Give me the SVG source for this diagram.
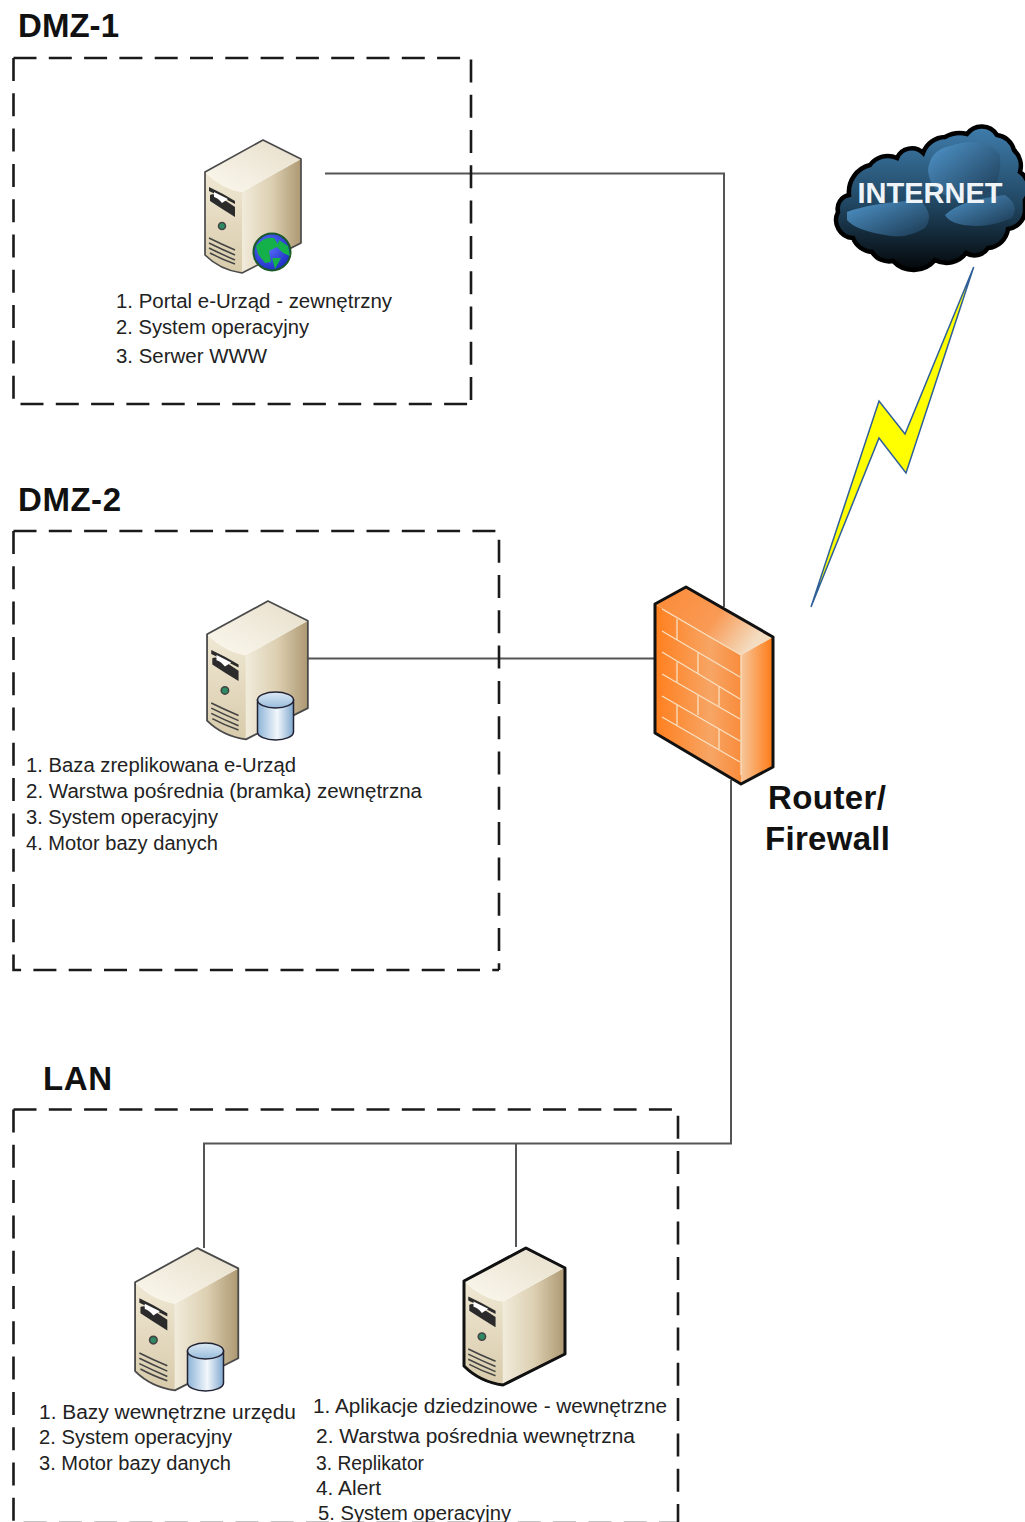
<svg xmlns="http://www.w3.org/2000/svg" width="1025" height="1522" viewBox="0 0 1025 1522">
<style>
.zone{fill:none;stroke:#1a1a1a;stroke-width:2.6;stroke-dasharray:23 12.300}
.wire{fill:none;stroke:#555;stroke-width:2}
.h{font:bold 33px "Liberation Sans",Arial,sans-serif;fill:#111}
.fw{font:bold 33px "Liberation Sans",Arial,sans-serif;fill:#111}
.t{font:20px "Liberation Sans",Arial,sans-serif;fill:#222}
.inet{font:bold 29px "Liberation Sans",Arial,sans-serif;fill:#eef4f8;text-anchor:middle}
.brick{fill:none;stroke:#f8e0c0;stroke-width:1.300}
</style>
<defs>
<linearGradient id="sTop" x1="0" y1="1" x2="1" y2="0"><stop offset="0" stop-color="#fbf8ee"/><stop offset="1" stop-color="#e6decA"/></linearGradient>
<linearGradient id="sFront" x1="0" y1="0" x2="0" y2="1"><stop offset="0" stop-color="#f0e8d4"/><stop offset="1" stop-color="#d8cbab"/></linearGradient>
<linearGradient id="sSide" x1="0" y1="0" x2="1" y2="0"><stop offset="0" stop-color="#f1ebdb"/><stop offset="0.5" stop-color="#ddd0b2"/><stop offset="1" stop-color="#ad9872"/></linearGradient>
<linearGradient id="cyl" x1="0" y1="0" x2="1" y2="0"><stop offset="0" stop-color="#8db4d8"/><stop offset="0.55" stop-color="#f2f7fb"/><stop offset="1" stop-color="#7fa8cf"/></linearGradient>
<linearGradient id="cylTop" x1="0" y1="0" x2="0" y2="1"><stop offset="0" stop-color="#dce9f4"/><stop offset="1" stop-color="#98bcdc"/></linearGradient>
<radialGradient id="globe" cx="0.4" cy="0.35" r="0.7"><stop offset="0" stop-color="#5a70ff"/><stop offset="1" stop-color="#1a2cc0"/></radialGradient>
<linearGradient id="cloud" x1="0" y1="0" x2="0" y2="1"><stop offset="0" stop-color="#3f7dac"/><stop offset="0.55" stop-color="#204560"/><stop offset="1" stop-color="#040709"/></linearGradient>
<linearGradient id="blob" x1="0" y1="0" x2="1" y2="1"><stop offset="0" stop-color="#5096cc"/><stop offset="1" stop-color="#1b3850"/></linearGradient>
<linearGradient id="fwFront" x1="0" y1="0" x2="1" y2="0"><stop offset="0" stop-color="#ff7f1e"/><stop offset="0.65" stop-color="#f7a565"/><stop offset="1" stop-color="#f98c3c"/></linearGradient>
<linearGradient id="fwSide" x1="0" y1="0" x2="1" y2="0"><stop offset="0" stop-color="#f6c79c"/><stop offset="1" stop-color="#ff7a14"/></linearGradient>
<linearGradient id="fwTop" x1="0" y1="0" x2="1" y2="0.4"><stop offset="0" stop-color="#fb8a35"/><stop offset="0.6" stop-color="#f99a55"/><stop offset="1" stop-color="#f3dcc0"/></linearGradient>
<g id="server">
<path d="M1 33 Q18 50 38 53 L38 134 Q16 131 1 116Z" fill="url(#sFront)"/>
<path d="M38 53 L97 20 L97 104 L38 134Z" fill="url(#sSide)"/>
<path d="M1 33 L59 1 L97 20 L38 53 Q18 50 1 33Z" fill="url(#sTop)"/>
<path d="M5 48 Q18 54 31 62 L31 65 Q18 58 5 52Z" fill="#2b2b2b"/>
<path d="M6 56 Q10 54 16 58 L31 68 L31 78 Q18 70 6 62Z" fill="#2b2b2b"/>
<path d="M10 53 L24 60 L18 64 Q14 59 10 58Z" fill="#fff"/>
<circle cx="18" cy="87" r="3.500" fill="#2d8a63" stroke="#444" stroke-width="1.500"/>
<path d="M5 99 Q17 105 31 111 M5 104 Q17 110 31 116 M5 109 Q17 115 31 121 M6 114 Q17 120 31 125" fill="none" stroke="#444" stroke-width="1.500"/>
<path d="M1 33 L59 1 L97 20 L97 104 L38 134 Q16 131 1 116Z" fill="none" stroke="#4a4a4a" stroke-width="1.700" stroke-linejoin="round"/>
</g>
<g id="db">
<path d="M0 8 V40 A18 8 0 0 0 36 40 V8Z" fill="url(#cyl)" stroke="#223" stroke-width="1.500"/>
<ellipse cx="18" cy="8" rx="18" ry="8" fill="url(#cylTop)" stroke="#223" stroke-width="1.500"/>
</g>
</defs>

<g id="connectors">
<path class="wire" d="M325 173.500H724V607"/>
<path class="wire" d="M308 658.500H655"/>
<path class="wire" d="M731 780V1143.500H204V1248"/>
<path class="wire" d="M516 1143.500V1247"/>
</g>

<g id="zone-dmz1">
<path class="zone" d="M13.500 58H471V404"/>
<path class="zone" d="M13.500 58V404H471"/>
<text class="h" x="18" y="37" textLength="101">DMZ-1</text>
</g>
<g id="zone-dmz2">
<path class="zone" d="M13.500 531H499V970"/>
<path class="zone" d="M13.500 531V970H499"/>
<text class="h" x="18" y="511" textLength="103">DMZ-2</text>
</g>
<g id="zone-lan">
<path class="zone" d="M13.500 1109.500H678V1523"/>
<path class="zone" d="M13.500 1109.500V1523H678"/>
<text class="h" x="43" y="1090" textLength="69">LAN</text>
</g>

<g id="server-www">
<use href="#server" transform="translate(204 139)"/>
<circle cx="272" cy="252" r="18.500" fill="url(#globe)" stroke="#1a5a2a" stroke-width="2"/>
<path d="M256 246 Q264 236 274 238 L279 246 L269 251 L271 262 L265 263 L258 254Z M279 240 L288 246 L290 256 L283 253 L277 247Z M272 258 L281 258 L275 269Z" fill="#14b04a"/>
<text class="t" x="116" y="308" textLength="276" lengthAdjust="spacingAndGlyphs">1. Portal e-Urząd - zewnętrzny</text>
<text class="t" x="116" y="334" textLength="193" lengthAdjust="spacingAndGlyphs">2. System operacyjny</text>
<text class="t" x="116" y="363" textLength="151" lengthAdjust="spacingAndGlyphs">3. Serwer WWW</text>
</g>

<g id="server-replica">
<use href="#server" transform="translate(206 600) scale(1.050 1.040)"/>
<use href="#db" transform="translate(257.500 692)"/>
<text class="t" x="26" y="772" textLength="270" lengthAdjust="spacingAndGlyphs">1. Baza zreplikowana e-Urząd</text>
<text class="t" x="26" y="798" textLength="396" lengthAdjust="spacingAndGlyphs">2. Warstwa pośrednia (bramka) zewnętrzna</text>
<text class="t" x="26" y="824" textLength="192" lengthAdjust="spacingAndGlyphs">3. System operacyjny</text>
<text class="t" x="26" y="850" textLength="192" lengthAdjust="spacingAndGlyphs">4. Motor bazy danych</text>
</g>

<g id="server-db">
<use href="#server" transform="translate(134 1247) scale(1.075 1.070)"/>
<use href="#db" transform="translate(187.500 1343)"/>
<text class="t" x="39" y="1419" textLength="257" lengthAdjust="spacingAndGlyphs">1. Bazy wewnętrzne urzędu</text>
<text class="t" x="39" y="1444" textLength="193" lengthAdjust="spacingAndGlyphs">2. System operacyjny</text>
<text class="t" x="39" y="1470" textLength="192" lengthAdjust="spacingAndGlyphs">3. Motor bazy danych</text>
</g>

<g id="server-app">
<use href="#server" transform="translate(463 1247) scale(1.050 1.030)"/>
<path d="M464 1281 L526 1248 L565 1268 L565 1354 L503 1385 Q480 1382 464 1366Z" fill="none" stroke="#111" stroke-width="3" stroke-linejoin="round"/>
<text class="t" x="313" y="1413" textLength="354" lengthAdjust="spacingAndGlyphs">1. Aplikacje dziedzinowe - wewnętrzne</text>
<text class="t" x="316" y="1443" textLength="319" lengthAdjust="spacingAndGlyphs">2. Warstwa pośrednia wewnętrzna</text>
<text class="t" x="316" y="1470" textLength="108" lengthAdjust="spacingAndGlyphs">3. Replikator</text>
<text class="t" x="316" y="1495" textLength="65" lengthAdjust="spacingAndGlyphs">4. Alert</text>
<text class="t" x="318" y="1520" textLength="193" lengthAdjust="spacingAndGlyphs">5. System operacyjny</text>
</g>

<g id="router-firewall">
<path d="M655 604 L741 655 V784 L655 733Z" fill="url(#fwFront)"/>
<path d="M741 655 L773 637 V767 L741 784Z" fill="url(#fwSide)"/>
<path d="M655 604 L686 587 L773 637 L741 655Z" fill="url(#fwTop)"/>
<path class="brick" d="M662 609 L741 655 V775 M662 631 L740 677 M662 652 L740 699 M662 674 L740 719 M662 696 L740 741 M662 717 L740 762 M677 619 V640 M698 653 V674 M677 662 V682 M719 687 V706 M698 695 V715 M677 705 V725 M719 729 V749"/>
<path d="M655 604 L686 587 L773 637 V767 L741 784 L655 733Z" fill="none" stroke="#111" stroke-width="3" stroke-linejoin="round"/>
<text class="fw" x="768" y="809" textLength="118">Router/</text>
<text class="fw" x="765" y="850" textLength="125">Firewall</text>
</g>

<g id="internet">
<path d="M838 212 A14 14 0 0 1 849 195 A28 28 0 0 1 870 165 A22 22 0 0 1 897 158 A16 16 0 0 1 923 153 A24 24 0 0 1 945 137 A30 30 0 0 1 967 134 A18 18 0 0 1 997 135 A20 20 0 0 1 1014 150 A22 22 0 0 1 1020 172 A20 20 0 0 1 1025 200 L1025 212 A20 20 0 0 1 1008 229 A22 22 0 0 1 988 248 A16 16 0 0 1 966 253 A24 24 0 0 1 935 260 A28 28 0 0 1 893 261 A20 20 0 0 1 872 252 A22 22 0 0 1 853 238 A18 18 0 0 1 838 212Z" fill="url(#cloud)" stroke="#000" stroke-width="4.500"/>
<path d="M928 170 Q930 150 950 146 Q985 135 1000 155 Q1002 180 990 192 Q960 205 945 195 Q930 190 928 170Z" fill="url(#blob)"/>
<path d="M847 212 Q870 203 920 200 Q935 215 925 228 Q905 240 885 235 Q855 230 847 220Z" fill="url(#blob)"/>
<path d="M945 215 Q960 200 1005 195 Q1020 205 1012 218 Q990 227 975 226 Q950 225 945 215Z" fill="url(#blob)"/>
<text class="inet" x="930" y="203">INTERNET</text>
</g>

<g id="wireless-link">
<path d="M973.700 267 L906 473 L879 438 L811 607 L879 401 L905 434Z" fill="#ffff00" stroke="#2f5f98" stroke-width="1.500" stroke-linejoin="miter"/>
</g>
</svg>
